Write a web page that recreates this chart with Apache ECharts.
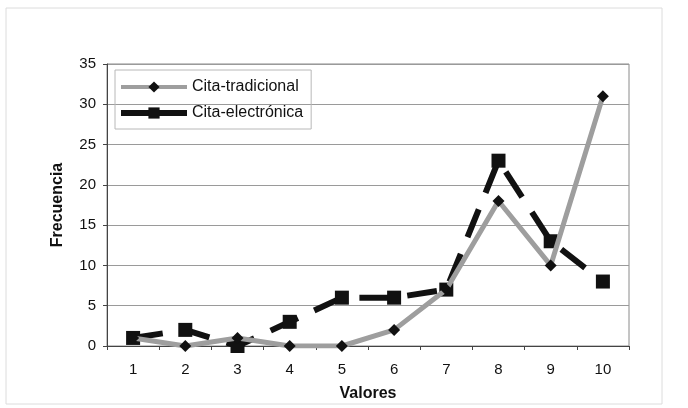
<!DOCTYPE html>
<html>
<head>
<meta charset="utf-8">
<script src="https://cdn.jsdelivr.net/npm/echarts@6/dist/echarts.min.js"></script>
<style>
  html, body { margin: 0; padding: 0; background: #ffffff; }
  #chart { width: 688px; height: 408px; }
</style>
</head>
<body>
<div id="chart"></div>
<script>
// Valores (categorías del eje X)
const valores = ['1', '2', '3', '4', '5', '6', '7', '8', '9', '10'];
// Frecuencias por tipo de cita
const citaTradicional = [1, 0, 1, 0, 0, 2, 7, 18, 10, 31];
const citaElectronica = [1, 2, 0, 3, 6, 6, 7, 23, 13, 8];

const chart = echarts.init(document.getElementById('chart'), null, { renderer: 'canvas' });

const font = 'Arial, "Liberation Sans", sans-serif';

chart.setOption({
  backgroundColor: '#ffffff',
  animation: false,
  graphic: [{
    type: 'rect',
    shape: { x: 6, y: 8, width: 656, height: 396 },
    style: { fill: 'none', stroke: '#dcdcdc', lineWidth: 1 },
    silent: true
  }],
  grid: { left: 107, right: 59, top: 64, bottom: 62, show: true, borderColor: '#8a8a8a', borderWidth: 1 },
  legend: {
    orient: 'vertical',
    left: 115,
    top: 70,
    padding: [9, 8, 8, 3],
    itemGap: 10,
    itemWidth: 66,
    itemHeight: 14,
    borderColor: '#b8b8b8',
    borderWidth: 1,
    textStyle: { fontFamily: font, fontSize: 16, color: '#111' },
    data: [
      { name: 'Cita-tradicional', lineStyle: { width: 4, color: '#9e9e9e' } },
      { name: 'Cita-electrónica', lineStyle: { width: 6, type: 'solid', color: '#111111' } }
    ]
  },
  xAxis: {
    type: 'category',
    data: valores,
    boundaryGap: true,
    name: 'Valores',
    nameLocation: 'middle',
    nameGap: 40,
    nameTextStyle: { fontFamily: font, fontSize: 16, fontWeight: 'bold', color: '#111' },
    axisLine: { lineStyle: { color: '#444', width: 1 } },
    axisTick: { show: true, length: 4, lineStyle: { color: '#444' } },
    axisLabel: { fontFamily: font, fontSize: 15, color: '#111', margin: 16 }
  },
  yAxis: {
    type: 'value',
    min: 0,
    max: 35,
    interval: 5,
    name: 'Frecuencia',
    nameLocation: 'middle',
    nameGap: 41,
    nameRotate: 90,
    nameTextStyle: { fontFamily: font, fontSize: 16, fontWeight: 'bold', color: '#111' },
    axisLine: { show: true, lineStyle: { color: '#444', width: 1 } },
    axisTick: { show: true, length: 4, lineStyle: { color: '#444' } },
    axisLabel: { fontFamily: font, fontSize: 15, color: '#111', margin: 11 },
    splitLine: { show: true, lineStyle: { color: '#9a9a9a', width: 1 } }
  },
  series: [
    {
      name: 'Cita-tradicional',
      type: 'line',
      data: citaTradicional,
      symbol: 'diamond',
      symbolSize: 12,
      itemStyle: { color: '#111111' },
      lineStyle: { color: '#9e9e9e', width: 5 },
      z: 3
    },
    {
      name: 'Cita-electrónica',
      type: 'line',
      data: citaElectronica,
      symbol: 'rect',
      symbolSize: 14,
      itemStyle: { color: '#111111' },
      lineStyle: { color: '#111111', width: 6, type: [30, 18] },
      z: 2
    }
  ]
});
</script>
</body>
</html>
